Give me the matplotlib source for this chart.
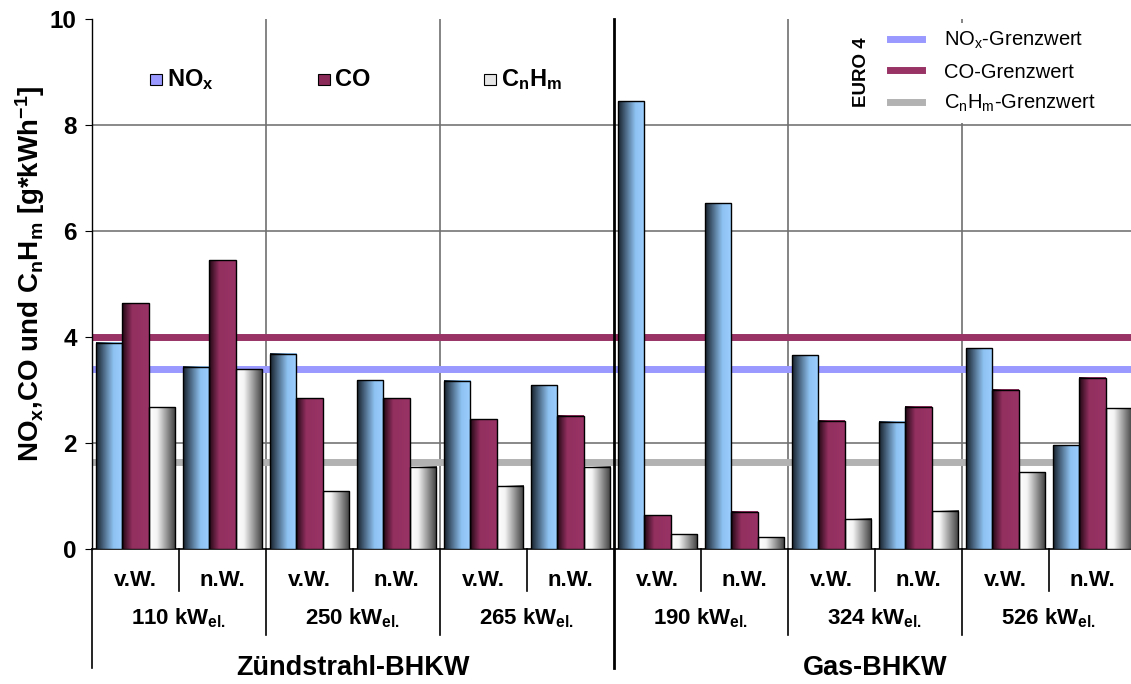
import numpy as np
import matplotlib.pyplot as plt
from matplotlib.colors import LinearSegmentedColormap
from matplotlib.lines import Line2D

plt.rcParams['font.family'] = ['Liberation Sans', 'DejaVu Sans']
plt.rcParams['mathtext.default'] = 'regular'

# data (g/kWh)
units = ['110', '250', '265', '190', '324', '526']
modes = ['v.W.', 'n.W.']
engine_types = ['Zündstrahl-BHKW', 'Gas-BHKW']
nox = [3.89, 3.44, 3.68, 3.18, 3.17, 3.09, 8.45, 6.52, 3.66, 2.40, 3.79, 1.96]
co = [4.64, 5.45, 2.84, 2.84, 2.45, 2.51, 0.64, 0.70, 2.42, 2.68, 3.00, 3.23]
cnhm = [2.67, 3.39, 1.09, 1.55, 1.19, 1.55, 0.28, 0.22, 0.57, 0.72, 1.45, 2.66]
nox_limit = 3.4
co_limit = 4.0
cnhm_limit = 1.65

cm_nox = LinearSegmentedColormap.from_list('nox', [(0, '#17202b'), (0.65, '#8ec2f2'), (1, '#9dcfff')])
cm_co = LinearSegmentedColormap.from_list('co', [(0, '#1e0612'), (0.38, '#93305f'), (1, '#993366')])
cm_hc = LinearSegmentedColormap.from_list('hc', [(0, '#ffffff'), (0.3, '#f4f4f4'), (1, '#3c3c3c')])


def grad_bars(ax, bars, cmap):
    grad = np.linspace(0, 1, 256).reshape(1, -1)
    for p in bars:
        x0, w, h = p.get_x(), p.get_width(), p.get_height()
        ax.imshow(grad, extent=[x0, x0 + w, 0, h], aspect='auto', cmap=cmap,
                  interpolation='bilinear', zorder=3)


fig = plt.figure(figsize=(11.31, 6.84), dpi=100)
W, H = 1131, 684
ax = fig.add_axes([92 / W, 1 - 549 / H, (1136 - 92) / W, 530 / H])

n = len(nox)
x = np.arange(n) + 0.5
bw = 0.305

# grid
for yv in [2, 4, 6, 8]:
    ax.axhline(yv, color='#808080', lw=1.3, zorder=1)

# limit lines
ax.axhline(nox_limit, color='#9999ff', lw=5, zorder=2)
ax.axhline(co_limit, color='#993366', lw=5, zorder=2)
ax.axhline(cnhm_limit, color='#b2b2b2', lw=5, zorder=2)

for vals, off, cm in [(nox, -bw, cm_nox), (co, 0, cm_co), (cnhm, bw, cm_hc)]:
    bars = ax.bar(x + off, vals, width=bw, facecolor='none', edgecolor='black', lw=1.0, zorder=4)
    grad_bars(ax, bars, cm)

ax.set_xlim(0, n)
ax.set_ylim(0, 10)

trans = ax.get_xaxis_transform()
# vertical separators
for i in range(1, n):
    if i == 6:
        ax.plot([i, i], [1, -0.2245], transform=trans, color='black', lw=2, clip_on=False, zorder=5)
    elif i % 2 == 0:
        ax.plot([i, i], [1, 0], transform=trans, color='#707070', lw=1.2, zorder=1)
        ax.plot([i, i], [0, -0.162], transform=trans, color='black', lw=1.2, clip_on=False)
    else:
        ax.plot([i, i], [0, -0.079], transform=trans, color='black', lw=1.2, clip_on=False)
ax.plot([0, 0], [0, -0.2245], transform=trans, color='black', lw=1.2, clip_on=False)

# category labels below
for i in range(n):
    ax.text(x[i], -0.0585, modes[i % 2], transform=trans, ha='center', va='center',
            fontsize=16, fontweight='bold')
for j, u in enumerate(units):
    ax.text(2 * j + 1, -0.130, u + ' kW$_{el.}$', transform=trans, ha='center', va='center',
            fontsize=16, fontweight='bold')
for k, t in enumerate(engine_types):
    ax.text(6 * k + 3, -0.2245, t, transform=trans, ha='center', va='center',
            fontsize=19.5, fontweight='bold')

# axes styling
for s in ['top', 'right']:
    ax.spines[s].set_visible(False)
ax.spines['left'].set_linewidth(1.0)
ax.spines['bottom'].set_linewidth(1.2)
ax.set_xticks([])
ax.set_yticks(range(0, 11, 2))
ax.tick_params(axis='y', direction='out', length=5, labelsize=17.5, pad=6)
for lbl in ax.get_yticklabels():
    lbl.set_fontweight('bold')
ax.set_ylabel('NO$_x$,CO und C$_n$H$_m$ [g*kWh$^{-1}$]', fontsize=20, fontweight='bold')
ax.yaxis.set_label_coords(-0.043, 0.52)

# series key, top left
key = [('NO$_x$', '#9999ff', 0.0556), ('CO', '#8a2a58', 0.2165), ('C$_n$H$_m$', '#e6e6e6', 0.3755)]
for lab, col, kx in key:
    ax.add_patch(plt.Rectangle((kx, 0.876), 0.011, 0.021, transform=ax.transAxes,
                               facecolor=col, edgecolor='black', lw=0.8, zorder=6))
    ax.text(kx + 0.016, 0.886, lab, transform=ax.transAxes, ha='left', va='center',
            fontsize=17, fontweight='bold', zorder=6)

# limit legend, top right
ax.add_patch(plt.Rectangle((0.7193, 0.803), 0.3, 0.19, transform=ax.transAxes,
                           facecolor='white', edgecolor='none', zorder=6))
ax.text(0.7375, 0.9, 'EURO 4', transform=ax.transAxes, rotation=90, ha='center', va='center',
        fontsize=13.5, fontweight='bold', zorder=7)
handles = [Line2D([], [], color='#9999ff', lw=5),
           Line2D([], [], color='#993366', lw=5),
           Line2D([], [], color='#b2b2b2', lw=5)]
labels = ['NO$_x$-Grenzwert', 'CO-Grenzwert', 'C$_n$H$_m$-Grenzwert']
leg = ax.legend(handles, labels, loc='center left', bbox_to_anchor=(0.7644, 0.9), frameon=False,
                fontsize=14.5, handlelength=1.6, handletextpad=1.1, labelspacing=0.55,
                borderpad=0, borderaxespad=0)
leg.set_zorder(8)

fig.savefig('out.png', dpi=100)
